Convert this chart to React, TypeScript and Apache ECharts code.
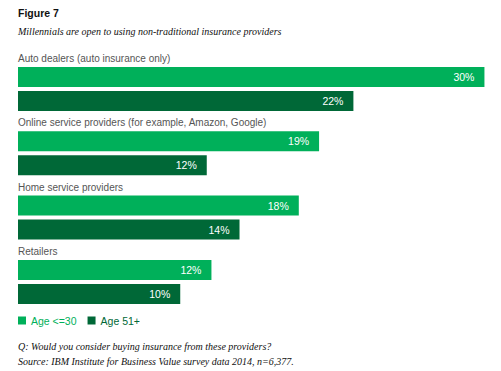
import React, { useEffect, useRef } from "react";
import * as echarts from "echarts";

const categories = [
  "Auto dealers (auto insurance only)",
  "Online service providers (for example, Amazon, Google)",
  "Home service providers",
  "Retailers",
];
const seriesNames = ["Age <=30", "Age 51+"];
const young = [29.9, 19.3, 18.0, 12.4];
const old = [21.5, 12.1, 14.2, 10.4];

const LIGHT = "#00b05a";
const DARK = "#006837";
const SANS = "'Liberation Sans', Arial, Helvetica, sans-serif";
const SERIF = "'Liberation Serif', 'Times New Roman', serif";

export default function App() {
  const ref = useRef<HTMLDivElement>(null);
  useEffect(() => {
    if (!ref.current) return;
    const chart = echarts.init(ref.current, null, { renderer: "svg" });
    const labelCfg = {
      show: true,
      position: "insideRight" as const,
      distance: 10,
      color: "#ffffff",
      fontFamily: SANS,
      fontSize: 10.5,
      formatter: (p: any) => Math.round(p.value) + "%",
    };
    chart.setOption({
      animation: false,
      backgroundColor: "#ffffff",
      graphic: [
        {
          type: "text",
          left: 18,
          top: 7,
          style: { text: "Figure 7", font: `bold 10.5px ${SANS}`, fill: "#111" },
        },
        {
          type: "text",
          left: 18,
          top: 26,
          style: {
            text: "Millennials are open to using non-traditional insurance providers",
            font: `italic 10px ${SERIF}`,
            fill: "#111",
          },
        },
        {
          type: "text",
          left: 18,
          top: 341,
          style: {
            text: "Q: Would you consider buying insurance from these providers?",
            font: `italic 10px ${SERIF}`,
            fill: "#111",
          },
        },
        {
          type: "text",
          left: 18,
          top: 356,
          style: {
            text: "Source: IBM Institute for Business Value survey data 2014, n=6,377.",
            font: `italic 10px ${SERIF}`,
            fill: "#111",
          },
        },
      ],
      legend: {
        left: 18,
        top: 315,
        padding: 0,
        itemWidth: 8,
        itemHeight: 8,
        itemGap: 11,
        icon: "rect",
        data: [
          { name: seriesNames[0], textStyle: { color: LIGHT } },
          { name: seriesNames[1], textStyle: { color: DARK } },
        ],
        textStyle: { fontFamily: SANS, fontSize: 10.5 },
      },
      grid: { left: 18, right: 15, top: 56.8, height: 257.3, containLabel: false },
      xAxis: {
        type: "value",
        min: 0,
        max: 30,
        show: false,
      },
      yAxis: {
        type: "category",
        inverse: true,
        data: categories,
        axisLine: { show: false },
        axisTick: { show: false },
        axisLabel: {
          inside: true,
          margin: 0,
          align: "left",
          verticalAlign: "middle",
          formatter: (v: string) => `{a|${v}}\n{b| }`,
          rich: {
            a: { color: "#555", fontFamily: SANS, fontSize: 10, lineHeight: 12 },
            b: { fontSize: 10, lineHeight: 61 },
          },
        },
        z: 10,
      },
      series: [
        {
          name: seriesNames[0],
          type: "bar",
          data: young,
          barWidth: 20,
          barGap: "20%",
          itemStyle: { color: LIGHT },
          label: labelCfg,
        },
        {
          name: seriesNames[1],
          type: "bar",
          data: old,
          barWidth: 20,
          barGap: "20%",
          itemStyle: { color: DARK },
          label: labelCfg,
        },
      ],
    });
    return () => chart.dispose();
  }, []);
  return (
    <div
      ref={ref}
      style={{ position: "fixed", left: 0, top: 0, width: 501, height: 371 }}
    />
  );
}
